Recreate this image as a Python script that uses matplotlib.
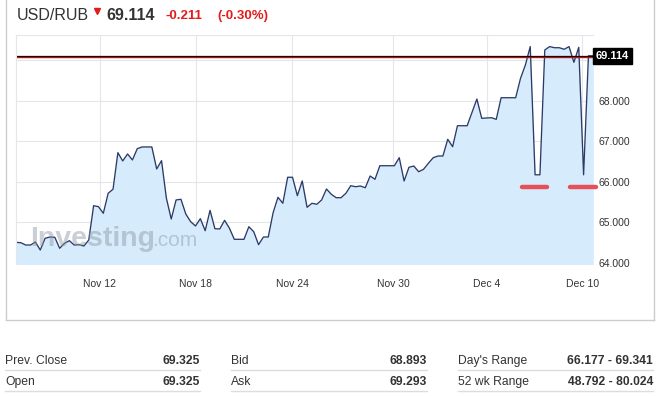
import matplotlib
matplotlib.use('Agg')
import matplotlib.pyplot as plt
from matplotlib.lines import Line2D

plt.rcParams['font.family'] = ['Liberation Sans', 'DejaVu Sans']

# sample index (roughly 5 samples per trading day) and USD/RUB quotes
idx = [0, 1, 2, 3, 4, 5, 6, 7, 8, 9, 10, 11, 12, 13, 14, 15, 16, 17, 18, 19,
       20, 21, 22, 23, 24, 25, 26, 28, 29, 30, 31, 32, 33, 34, 35, 36, 37, 38,
       39, 40, 41, 42, 43, 44, 45, 47, 48, 49, 50, 51, 52, 53, 54, 55, 56, 57,
       58, 59, 60, 61, 62, 63, 64, 65, 66, 67, 68, 69, 70, 71, 72, 73, 74, 75,
       78, 79, 80, 81, 82, 83, 84, 85, 86, 87, 88, 89, 90, 91, 93, 95, 96, 98,
       99, 100, 103, 104, 105, 106, 107, 108, 109, 110, 111, 112, 113, 114,
       115, 116, 117, 118, 119]
price = [64.511, 64.501, 64.444, 64.444, 64.519, 64.321, 64.610, 64.642, 64.635,
         64.363, 64.486, 64.551, 64.444, 64.452, 64.420, 64.568, 65.415, 65.390,
         65.227, 65.721, 65.820, 66.723, 66.519, 66.691, 66.543, 66.822, 66.864,
         66.864, 66.321, 66.526, 65.598, 65.086, 65.556, 65.573, 65.210, 65.020,
         64.914, 65.094, 64.798, 65.301, 64.847, 64.840, 65.054, 64.857, 64.585,
         64.585, 64.896, 64.773, 64.452, 64.642, 64.642, 65.242, 65.622, 65.474,
         66.116, 66.116, 65.662, 66.025, 65.375, 65.474, 65.449, 65.556, 65.827,
         65.696, 65.612, 65.612, 65.720, 65.908, 65.883, 65.900, 65.858, 66.147,
         66.066, 66.401, 66.401, 66.599, 66.024, 66.362, 66.394, 66.253, 66.312,
         66.460, 66.599, 66.641, 66.641, 67.053, 66.870, 67.388, 67.388, 68.047,
         67.571, 67.586, 67.546, 68.079, 68.079, 68.558, 68.886, 69.341, 66.177,
         66.177, 69.257, 69.341, 69.313, 69.313, 69.274, 69.341, 68.953, 69.323,
         66.177, 69.114, 69.114]

last = 69.114
gap_y = 65.88
gaps = [(104.2, 109.5), (114.3, 119.6)]

xtick_pos = [17.3, 37.1, 56.9, 77.7, 97.1, 116.7]
xtick_lab = ['Nov 12', 'Nov 18', 'Nov 24', 'Nov 30', 'Dec 4', 'Dec 10']
ytick_pos = [64, 65, 66, 67, 68, 69]

header = ['USD/RUB', '69.114', '-0.211', '(-0.30%)']
stats_labels = [['Prev. Close', 'Open'], ['Bid', 'Ask'], ["Day's Range", '52 wk Range']]
stats_values = [['69.325', '69.325'], ['68.893', '69.293'],
                ['66.177 - 69.341', '48.792 - 80.024']]

W, H = 660, 396
fig = plt.figure(figsize=(6.6, 3.96), dpi=100)


def fx(px):
    return px / W


def fy(py):
    return 1 - py / H


ax = fig.add_axes([fx(16), fy(263.5), fx(593.3) - fx(16), fy(35) - fy(263.5)])
ax.fill_between(idx, price, 60, color='#d6ebfc', lw=0)
ax.plot(idx, price, color='#2b3a67', lw=0.95)
ax.axhline(last - 0.02, color='#e01010', lw=1.0)
ax.axhline(last + 0.005, color='black', lw=0.9)
for a, b in gaps:
    ax.plot([a, b], [gap_y, gap_y], color='#e5505a', lw=3.2,
            solid_capstyle='round', clip_on=False)

ax.set_xlim(0, 119)
ax.set_ylim(63.988, 69.627)
ax.set_xticks(xtick_pos)
ax.set_xticklabels(xtick_lab, fontsize=7.5, color='#333333')
ax.set_yticks(ytick_pos)
ax.set_yticklabels(['%.3f' % v if v < 69 else '' for v in ytick_pos],
                   fontsize=7.5, color='#333333')
ax.yaxis.tick_right()
ax.tick_params(length=0, pad=4)
ax.tick_params(axis='x', pad=11)
ax.grid(color='#e4e6ea', lw=0.8)
ax.set_axisbelow(True)
for s in ['right', 'bottom']:
    ax.spines[s].set_visible(False)
for s in ['top', 'left']:
    ax.spines[s].set_color('#e4e6ea')
    ax.spines[s].set_linewidth(0.8)

# watermark
ax.text(0.024, 0.075, 'Investing', transform=ax.transAxes, fontsize=20.5,
        fontweight='bold', color='#8a96a3', alpha=0.45, va='baseline')
ax.text(0.236, 0.075, '.com', transform=ax.transAxes, fontsize=15,
        color='#8a96a3', alpha=0.45, va='baseline')

# last price label
ax.text(1.004, last, '69.114', transform=ax.get_yaxis_transform(),
        fontsize=8, fontweight='bold', color='white', va='center', ha='left',
        bbox=dict(boxstyle='square,pad=0.25', fc='black', ec='black'))

# outer box
box = dict(color='#cccccc', lw=1.0)
fig.add_artist(Line2D([fx(6), fx(6)], [fy(0), fy(320)], **box))
fig.add_artist(Line2D([fx(654), fx(654)], [fy(0), fy(320)], **box))
fig.add_artist(Line2D([fx(6), fx(654)], [fy(320), fy(320)], **box))

# header
fig.text(fx(17), fy(16), header[0], fontsize=11.5, color='#333333', va='center')
fig.add_artist(Line2D([fx(97)], [fy(11)], marker='v', ms=4.5, color='#e31b1b'))
fig.text(fx(106), fy(16), header[1], fontsize=11.5, fontweight='bold',
         color='#333333', va='center')
fig.text(fx(166), fy(16), header[2], fontsize=9.5, fontweight='bold',
         color='#e31b1b', va='center')
fig.text(fx(217), fy(16), header[3], fontsize=9.5, fontweight='bold',
         color='#e31b1b', va='center')

# stats table
cols = [(5, 200), (231, 427), (458, 653)]
rows = [361, 382]
seps = [370, 391]
for c, (xl, xr) in enumerate(cols):
    for r in range(2):
        fig.text(fx(xl), fy(rows[r]), stats_labels[c][r], fontsize=8.7,
                 color='#333333', va='center')
        fig.text(fx(xr), fy(rows[r]), stats_values[c][r], fontsize=8.7,
                 fontweight='bold', color='#333333', va='center', ha='right')
        fig.add_artist(Line2D([fx(xl), fx(xr)], [fy(seps[r]), fy(seps[r])],
                              color='#dddddd', lw=1.0))

fig.savefig('out.png', dpi=100)
